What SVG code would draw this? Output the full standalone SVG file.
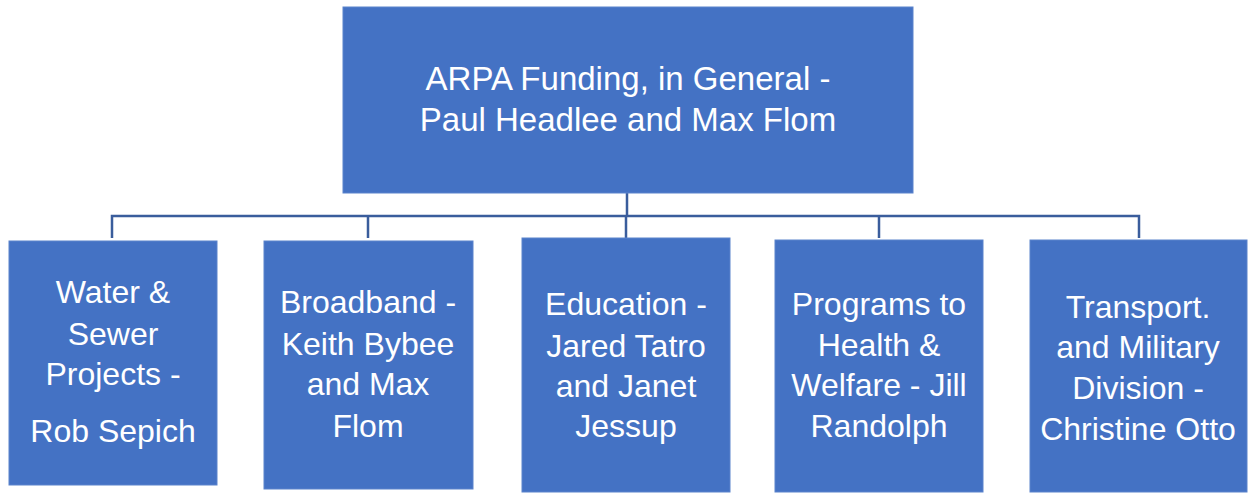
<svg xmlns="http://www.w3.org/2000/svg" width="1253" height="493" viewBox="0 0 1253 493">
<style>
.box{fill:#4472C4;stroke:#5B83CC;stroke-width:1}
.t{font-family:"Liberation Sans",Arial,sans-serif;font-size:32px;fill:#FFFFFF;text-anchor:middle}
.tt{font-size:33px}
.c{fill:none;stroke:#3A5D9C;stroke-width:2.5}
</style>
<rect width="1253" height="493" fill="#FFFFFF"/>
<g id="connectors">
<path class="c" d="M627 193 V216 M112 238 V216 H1139 V238 M368 216 V238 M626 216 V238 M879 216 V238"/>
</g>
<g id="node-arpa">
<rect class="box" x="343" y="7" width="570" height="186"/>
<text class="t tt" x="628" y="90">ARPA Funding, in General -</text>
<text class="t tt" x="628" y="131">Paul Headlee and Max Flom</text>
</g>
<g id="node-water">
<rect class="box" x="9" y="241" width="208" height="244"/>
<text class="t" x="113" y="303">Water &amp;</text>
<text class="t" x="113" y="345">Sewer</text>
<text class="t" x="113" y="385">Projects -</text>
<text class="t" x="113" y="442">Rob Sepich</text>
</g>
<g id="node-broadband">
<rect class="box" x="264" y="241" width="209" height="248"/>
<text class="t" x="368" y="313">Broadband -</text>
<text class="t" x="368" y="355">Keith Bybee</text>
<text class="t" x="368" y="395">and Max</text>
<text class="t" x="368" y="437">Flom</text>
</g>
<g id="node-education">
<rect class="box" x="522" y="238" width="208" height="254"/>
<text class="t" x="626" y="315">Education -</text>
<text class="t" x="626" y="357">Jared Tatro</text>
<text class="t" x="626" y="397">and Janet</text>
<text class="t" x="626" y="437">Jessup</text>
</g>
<g id="node-health">
<rect class="box" x="775" y="240" width="208" height="252"/>
<text class="t" x="879" y="315">Programs to</text>
<text class="t" x="879" y="356">Health &amp;</text>
<text class="t" x="879" y="396">Welfare - Jill</text>
<text class="t" x="879" y="437">Randolph</text>
</g>
<g id="node-transport">
<rect class="box" x="1030" y="240" width="217" height="252"/>
<text class="t" x="1138" y="318">Transport.</text>
<text class="t" x="1138" y="358">and Military</text>
<text class="t" x="1138" y="399">Division -</text>
<text class="t" x="1138" y="440">Christine Otto</text>
</g>
</svg>
